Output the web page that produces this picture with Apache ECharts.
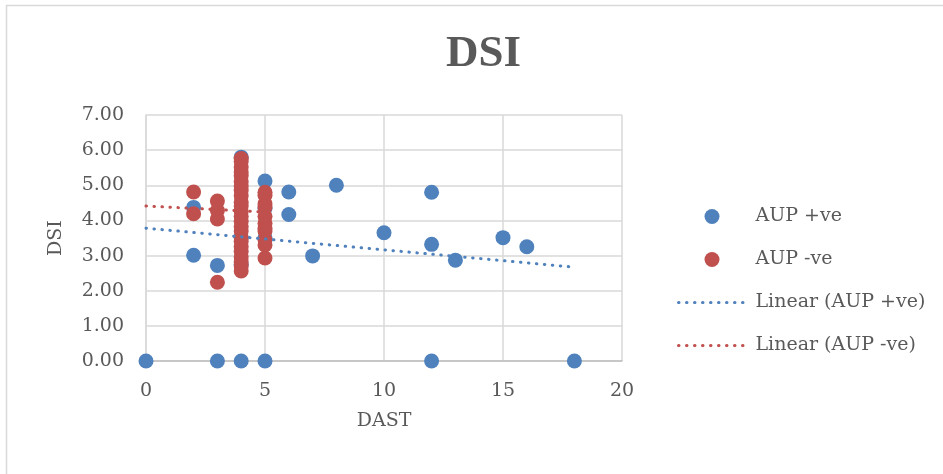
<!DOCTYPE html>
<html>
<head>
    <meta charset="utf-8">
    <title>DSI</title>
    <script src="https://cdn.jsdelivr.net/npm/echarts@6/dist/echarts.min.js"></script>
    <style>
        html, body { margin: 0; padding: 0; background: #fff; }
        #main { width: 943px; height: 474px; }
    </style>
</head>
<body>
<div id="main"></div>
<script>
// AUP +ve
var posX = [0, 2, 2, 3, 3, 4, 4, 4, 4, 5, 5, 5, 5, 6, 6, 7, 8, 10, 12, 12, 12, 13, 15, 16, 18];
var posY = [0, 4.37, 3.01, 2.72, 0, 0, 5.80, 2.75, 3.52, 0, 5.12, 3.50, 4.35, 4.81, 4.17, 2.99, 5.00, 3.65, 4.80, 3.32, 0, 2.87, 3.51, 3.25, 0];

// AUP -ve
var negX = [2, 2, 3, 3, 3, 3,
    4, 4, 4, 4, 4, 4, 4, 4, 4, 4, 4, 4, 4, 4, 4, 4, 4, 4, 4, 4, 4, 4, 4, 4,
    5, 5, 5, 5, 5, 5, 5, 5, 5, 5, 5];
var negY = [4.81, 4.19, 4.55, 4.28, 4.04, 2.24,
    5.76, 5.68, 5.52, 5.38, 5.27, 5.10, 4.98, 4.85, 4.70, 4.52, 4.41, 4.26, 4.12, 3.98, 3.83, 3.70, 3.52, 3.41, 3.25, 3.12, 2.96, 2.82, 2.70, 2.56,
    4.80, 4.72, 4.47, 4.38, 4.12, 3.92, 3.78, 3.70, 3.45, 3.30, 2.93];

// trendline ends
var trendPosX = [0, 18];
var trendPosY = [3.78, 2.67];
var trendNegX = [0, 5];
var trendNegY = [4.41, 4.24];

var seriesNames = ['AUP +ve', 'AUP -ve', 'Linear (AUP +ve)', 'Linear (AUP -ve)'];

function pairs(xs, ys) {
    var out = [];
    for (var i = 0; i < xs.length; i++) out.push([xs[i], ys[i]]);
    return out;
}

var blue = '#4f81bd';
var red = '#c0504d';
var txt = '#595959';
var labelFont = 'DejaVu Serif';
var dots = [0.5, 7.5];

var chart = echarts.init(document.getElementById('main'));

var option = {
    animation: false,
    backgroundColor: '#fff',
    graphic: [{
        type: 'rect',
        shape: { x: 6.5, y: 5.5, width: 960, height: 490 },
        style: { fill: 'none', stroke: '#d9d9d9', lineWidth: 1.5 },
        silent: true
    }],
    title: {
        text: 'DSI',
        left: 441,
        top: 27,
        textStyle: {
            fontFamily: 'Liberation Serif',
            fontWeight: 'bold',
            fontSize: 45,
            color: txt
        }
    },
    legend: {
        orient: 'vertical',
        left: 672,
        top: 202,
        itemWidth: 67,
        itemHeight: 15,
        itemGap: 24,
        data: [
            { name: seriesNames[0] },
            { name: seriesNames[1] },
            { name: seriesNames[2], itemStyle: { opacity: 0 },
              lineStyle: { color: blue, width: 3, type: dots, cap: 'round' } },
            { name: seriesNames[3], itemStyle: { opacity: 0 },
              lineStyle: { color: red, width: 3, type: dots, cap: 'round' } }
        ],
        textStyle: {
            fontFamily: labelFont,
            fontSize: 19,
            color: txt,
            padding: [0, 0, 0, 5]
        }
    },
    grid: {
        left: 146,
        right: 321,
        top: 115,
        bottom: 113
    },
    xAxis: {
        type: 'value',
        min: 0,
        max: 20,
        interval: 5,
        name: 'DAST',
        nameLocation: 'middle',
        nameGap: 51,
        nameTextStyle: { fontFamily: labelFont, fontSize: 19, color: txt },
        axisLine: { show: true, lineStyle: { color: '#bfbfbf', width: 1.5 } },
        axisTick: { show: false },
        axisLabel: { margin: 21, fontFamily: labelFont, fontSize: 19, color: txt },
        splitLine: { show: true, lineStyle: { color: '#d9d9d9', width: 1.5 } }
    },
    yAxis: {
        type: 'value',
        min: 0,
        max: 7,
        interval: 1,
        name: 'DSI',
        nameLocation: 'middle',
        nameGap: 80,
        nameTextStyle: { fontFamily: labelFont, fontSize: 19, color: txt },
        axisLine: { show: true, lineStyle: { color: '#d9d9d9', width: 1.5 } },
        axisTick: { show: false },
        axisLabel: {
            margin: 22,
            fontFamily: labelFont,
            fontSize: 19,
            color: txt,
            formatter: function (v) { return v.toFixed(2); }
        },
        splitLine: { show: true, lineStyle: { color: '#d9d9d9', width: 1.5 } }
    },
    series: [{
        name: seriesNames[0],
        type: 'scatter',
        symbol: 'circle',
        symbolSize: 15,
        z: 2,
        itemStyle: { color: blue, opacity: 1 },
        data: pairs(posX, posY)
    }, {
        name: seriesNames[1],
        type: 'scatter',
        symbol: 'circle',
        symbolSize: 15,
        z: 2,
        itemStyle: { color: red, opacity: 1 },
        data: pairs(negX, negY)
    }, {
        name: seriesNames[2],
        type: 'line',
        symbol: 'none',
        showSymbol: false,
        z: 3,
        itemStyle: { color: blue },
        lineStyle: { color: blue, width: 3, type: dots, cap: 'round' },
        data: pairs(trendPosX, trendPosY)
    }, {
        name: seriesNames[3],
        type: 'line',
        symbol: 'none',
        showSymbol: false,
        z: 3,
        itemStyle: { color: red },
        lineStyle: { color: red, width: 3, type: dots, cap: 'round' },
        data: pairs(trendNegX, trendNegY)
    }]
};
chart.setOption(option);
</script>
</body>
</html>
